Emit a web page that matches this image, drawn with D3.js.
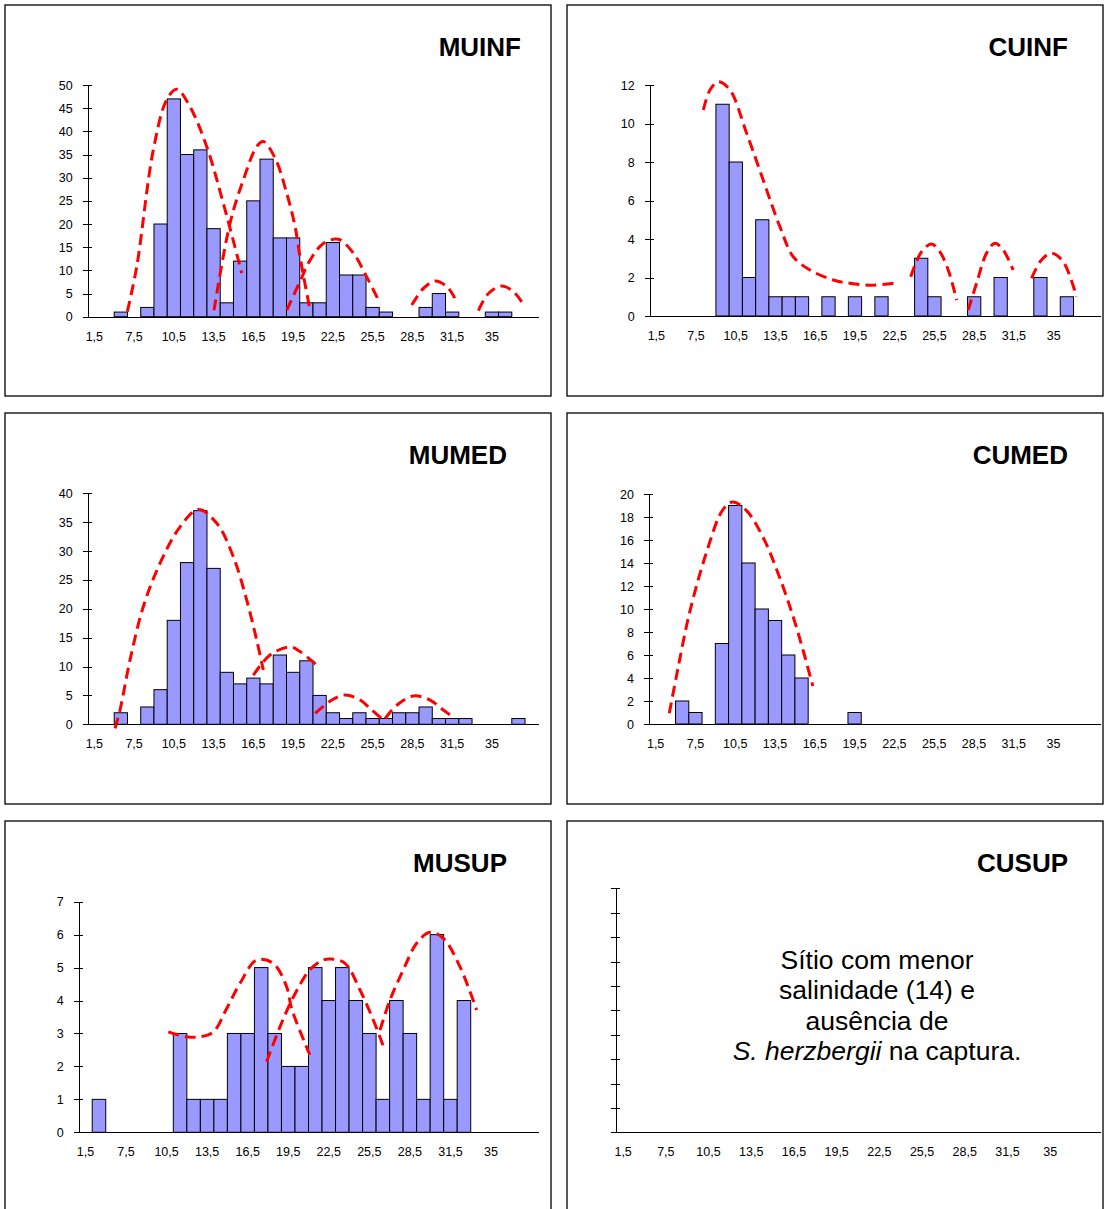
<!DOCTYPE html>
<html lang="pt">
<head>
<meta charset="UTF-8">
<title>Salinidade - S. herzbergii</title>
<script src="https://d3js.org/d3.v7.min.js"></script>
<style>
body,html{
	margin: 0;
	padding: 0;
	background: #fff;
}
text{
	font-family: Arial, "Liberation Sans", Helvetica, sans-serif;
	fill: #000;
}
.box{
	fill: none;
	stroke: #000;
	stroke-width: 1.3px;
}
.bar{
	fill: #9999ff;
	stroke: #000;
	stroke-width: 1px;
}
.fit{
	fill: none;
	stroke: #ff0000;
	stroke-width: 3px;
	stroke-dasharray: 11,6;
}
.axis path,
.axis line{
	stroke: #000;
	stroke-width: 1px;
	shape-rendering: crispEdges;
}
.tick text{
	font-size: 12.5px;
	fill: #000;
}
.title{
	font-size: 26px;
	font-weight: bold;
	text-anchor: end;
}
.note{
	font-size: 26.5px;
	text-anchor: middle;
}
</style>
</head>
<body>
<script>
// salinity classes (only every third one is labelled on the axis)
var bins = ["1,5","3,5","5,5","7,5","8,5","9,5","10,5","11,5","12,5","13,5","14,5","15,5",
	"16,5","17,5","18,5","19,5","20,5","21,5","22,5","23,5","24,5","25,5","26,5","27,5",
	"28,5","29,5","30,5","31,5","32,5","33,5","35","36","37","38"];
var tickLabels = ["1,5","7,5","10,5","13,5","16,5","19,5","22,5","25,5","28,5","31,5","35"];

// frequencies per class
var muinf = [0,0,1,0,2,20,47,35,36,19,3,12,25,34,17,17,3,3,16,9,9,2,1,0,0,2,5,1,0,0,1,1,0,0];
var cuinf = [0,0,0,0,0,11,8,2,5,1,1,1,0,1,0,1,0,1,0,0,3,1,0,0,1,0,2,0,0,2,0,1,0,0];
var mumed = [0,0,2,0,3,6,18,28,37,27,9,7,8,7,12,9,11,5,2,1,2,1,1,2,2,3,1,1,1,0,0,0,1,0];
var cumed = [0,0,2,1,0,7,19,14,10,9,6,4,0,0,0,1,0,0,0,0,0,0,0,0,0,0,0,0,0,0,0,0,0,0];
var musup = [0,1,0,0,0,0,0,3,1,1,1,3,3,5,3,2,2,5,4,5,4,3,1,4,3,1,6,1,4,0,0,0,0,0];

// dashed fitted curves: [class position, frequency]
var muinfCurves = [
	[[2.99,1.1],[3.7,10.8],[4.95,36],[5.96,46.8],[6.72,49.1],[7.72,45.3],[8.98,36.7],[10.23,24.5],[11.62,9.4]],
	[[9.53,1.4],[10.74,20.2],[11.74,29.5],[12.75,36.7],[13.25,37.8],[14.14,34.2],[15.02,26.6],[15.65,19.4],[16.02,12.9],[16.78,1.4]],
	[[15.02,1.4],[16.02,7.6],[16.78,12.2],[17.78,15.8],[18.91,16.7],[20.05,13.7],[21.05,8.6],[22.06,2.9]],
	[[24.45,2.5],[25.33,6.1],[26.2,7.7],[27.1,6.5],[27.7,4]],
	[[29.48,1.3],[30.24,5],[31.25,6.6],[32.12,5.4],[32.75,3.2]]
];
var cuinfCurves = [
	[[4.05,10.7],[4.55,11.74],[5.18,12.17],[6.06,11.74],[7.32,9.49],[8.57,7.06],[9.83,4.64],[10.84,3.08],[12.1,2.39],[13.86,1.87],[15.12,1.7],[16.88,1.6],[18.64,1.73]],
	[[19.71,2.04],[20.53,3.34],[21.28,3.74],[21.9,3.34],[22.54,2.39],[23.17,0.83]],
	[[24.05,0.31],[24.68,1.7],[25.43,3.26],[26.06,3.78],[26.69,3.43],[27.44,2.39]],
	[[28.83,1.96],[29.58,2.91],[30.34,3.26],[31.22,2.82],[32.23,1.0]]
];
var mumedCurves = [
	[[2.06,-0.7],[2.44,2.48],[3.19,11.1],[4.2,20.4],[5.46,27.9],[6.97,34.2],[8.35,37.2],[9.74,34.8],[10.99,29],[12.0,21.5],[12.75,14.6],[13.25,9.4]],
	[[12.5,8.5],[13.76,12],[15.27,13.4],[16.02,12.6],[17.4,10]],
	[[17.17,1.9],[18.42,4.2],[19.42,5.07],[20.55,4.2],[21.43,2.48],[22.19,1.0]],
	[[22.44,1.0],[23.32,3.3],[24.57,4.9],[25.83,4.2],[26.83,2.48],[27.72,1.0]]
];
var cumedCurves = [
	[[1.53,0.93],[2.16,4.7],[3.04,9.6],[4.3,14.8],[5.55,18.6],[6.31,19.3],[7.32,18.6],[8.57,16.3],[9.83,12.8],[11.09,8.5],[12.35,3.3]]
];
var musupCurves = [
	[[6.63,3.05],[7.99,2.9],[8.97,2.9],[9.96,3.05],[10.95,3.76],[11.93,4.52],[13.17,5.23],[14.39,5.13],[15.38,4.42],[15.75,3.76],[16.74,2.7],[17.1,2.35]],
	[[13.9,2.14],[14.89,3.2],[15.87,4.1],[17.1,4.93],[18.09,5.23],[18.71,5.26],[19.7,5.13],[20.81,4.32],[21.79,3.41],[22.65,2.49]],
	[[22.29,3.1],[23.03,4.02],[24.01,4.93],[25.0,5.74],[25.98,6.07],[26.97,5.89],[28.2,5.03],[29.44,3.71]]
];
var cusupNote = ["Sítio com menor", "salinidade (14) e", "ausência de"];

var panels = [
	{title: "MUINF", values: muinf, curves: muinfCurves, yMax: 50, yStep: 5},
	{title: "CUINF", values: cuinf, curves: cuinfCurves, yMax: 12, yStep: 2},
	{title: "MUMED", values: mumed, curves: mumedCurves, yMax: 40, yStep: 5},
	{title: "CUMED", values: cumed, curves: cumedCurves, yMax: 20, yStep: 2},
	{title: "MUSUP", values: musup, curves: musupCurves, yMax: 7, yStep: 1},
	{title: "CUSUP", values: null, curves: [], yMax: 10, yStep: 1, note: cusupNote}
];

// page layout of each panel (box + plot area + title anchor)
var layout = [
	{bx: 5,   by: 5,   bw: 546, left: 87.7,  right: 538.3, top: 85,    bottom: 316.7,  tx: 521,  ty: 56},
	{bx: 567, by: 5,   bw: 536, left: 649.7, right: 1100,  top: 85,    bottom: 316,    tx: 1068, ty: 56},
	{bx: 5,   by: 413, bw: 546, left: 87.7,  right: 538.3, top: 493.3, bottom: 724.3,  tx: 507,  ty: 464},
	{bx: 567, by: 413, bw: 536, left: 649,   right: 1100,  top: 494,   bottom: 724,    tx: 1068, ty: 464},
	{bx: 5,   by: 821, bw: 546, left: 78.7,  right: 538.3, top: 901.7, bottom: 1132.3, tx: 507,  ty: 872},
	{bx: 567, by: 821, bw: 536, left: 616,   right: 1100,  top: 888.3, bottom: 1132.3, tx: 1068, ty: 872}
];
var boxH = 391;

var svg = d3.select("body").append("svg")
	.attr("width", 1104)
	.attr("height", 1209);

panels.forEach(function(p, i){
	var L = layout[i];

	svg.append("rect")
		.classed("box", true)
		.attr("x", L.bx)
		.attr("y", L.by)
		.attr("width", L.bw)
		.attr("height", boxH);

	svg.append("text")
		.classed("title", true)
		.attr("x", L.tx)
		.attr("y", L.ty)
		.text(p.title);

	var x = d3.scaleBand()
		.domain(bins)
		.range([L.left, L.right])
		.padding(0);

	var xPos = d3.scaleLinear()
		.domain([0, bins.length])
		.range([L.left, L.right]);

	var y = d3.scaleLinear()
		.domain([0, p.yMax])
		.range([L.bottom, L.top]);

	// bars
	if(p.values){
		var data = bins.map(function(b, k){ return {bin: b, v: p.values[k]}; })
			.filter(function(d){ return d.v > 0; });
		svg.selectAll(".bar" + i)
			.data(data)
			.enter()
				.append("rect")
				.attr("class", "bar bar" + i)
				.attr("x", function(d){ return x(d.bin); })
				.attr("y", function(d){ return y(d.v); })
				.attr("width", x.bandwidth())
				.attr("height", function(d){ return y(0) - y(d.v); });
	}

	// y axis with crossing ticks
	var yAxis = d3.axisLeft(y)
		.tickValues(d3.range(0, p.yMax + p.yStep / 2, p.yStep))
		.tickFormat(p.note ? "" : d3.format("d"))
		.tickSizeInner(5)
		.tickSizeOuter(0)
		.tickPadding(10);

	var gy = svg.append("g")
		.classed("axis", true)
		.attr("transform", "translate(" + L.left + ",0)")
		.call(yAxis);
	gy.selectAll(".tick line").attr("x1", 4);
	gy.selectAll(".tick text").style("font-size", "12.5px");

	// x axis
	var xAxis = d3.axisBottom(x)
		.tickValues(tickLabels)
		.tickSize(0)
		.tickSizeOuter(0)
		.tickPadding(15);

	var gx = svg.append("g")
		.classed("axis", true)
		.attr("transform", "translate(0," + L.bottom + ")")
		.call(xAxis);
	gx.selectAll(".tick text").style("font-size", "12.5px");

	// fitted curves
	var line = d3.line()
		.x(function(d){ return xPos(d[0]); })
		.y(function(d){ return y(d[1]); })
		.curve(d3.curveCatmullRom.alpha(0.5));

	svg.selectAll(".fit" + i)
		.data(p.curves)
		.enter()
			.append("path")
			.attr("class", "fit fit" + i)
			.attr("d", line);

	// note for the empty site
	if(p.note){
		var cx = 877;
		p.note.forEach(function(t, k){
			svg.append("text")
				.classed("note", true)
				.attr("x", cx)
				.attr("y", 969 + k * 30.3)
				.text(t);
		});
		var last = svg.append("text")
			.classed("note", true)
			.attr("x", cx)
			.attr("y", 969 + 3 * 30.3);
		last.append("tspan").style("font-style", "italic").text("S. herzbergii");
		last.append("tspan").text(" na captura.");
	}
});
</script>
</body>
</html>
